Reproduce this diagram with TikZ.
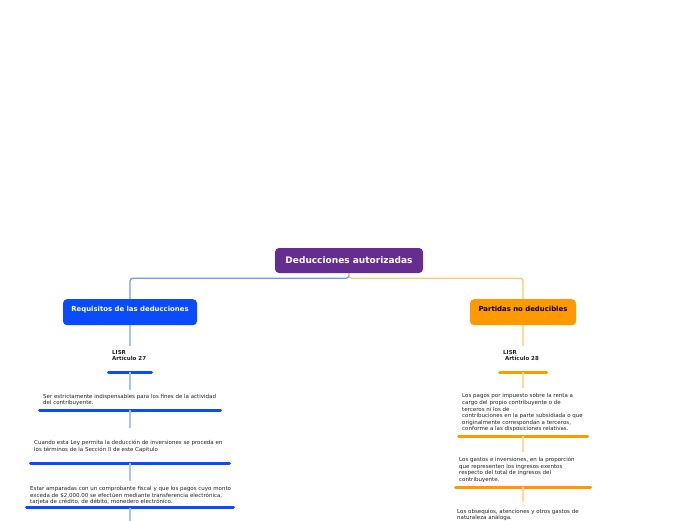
\documentclass[tikz,border=0pt]{standalone}
\usepackage{fontspec}
\setmainfont{DejaVu Sans}
\definecolor{dmPurple}{HTML}{662D91}
\definecolor{dmBlue}{HTML}{0A4BFF}
\definecolor{dmOrange}{HTML}{FF9900}
\definecolor{dmBlueLink}{HTML}{6E98F8}
\definecolor{dmBlueStem}{HTML}{A8C2FB}
\definecolor{dmOrangeLink}{HTML}{FFC570}
\definecolor{dmOrangeStem}{HTML}{FFD9A0}
\definecolor{dmInk}{HTML}{222222}

\begin{document}
\begin{tikzpicture}[
  x=1pt, y=1pt, text=dmInk,
  dm root/.style={fill=dmPurple,text=white,rounded corners=4pt,
    minimum width=148pt,minimum height=25pt,inner sep=0pt,
    font=\fontsize{9}{10.8}\selectfont\bfseries},
  dm topic/.style={rounded corners=4pt,inner sep=0pt,
    text height=12pt,text depth=14pt,
    font=\fontsize{6.9}{8}\selectfont\bfseries},
  dm item/.style={anchor=north west,align=left,inner xsep=0pt,
    font=\fontsize{5.5}{6.6}\selectfont},
  dm law/.style={dm item,font=\fontsize{5.1}{6.4}\selectfont\bfseries},
  dm link/.style={line width=1.3pt,rounded corners=3pt},
  dm stem/.style={line width=1.2pt},
  dm bar/.style={line width=3pt,line cap=round}
]
\useasboundingbox (0,0) rectangle (696,-520);
% Column axes of the two branches.
\def\xL{130}
\def\xR{523}

% Central topic and the two branches.
\node[dm root] (root) at (349,-260.5) {Deducciones autorizadas};
\node[dm topic,fill=dmBlue,text=white,minimum width=134pt,anchor=north]
  (requisitos) at (\xL,-299) {Requisitos de las deducciones};
\node[dm topic,fill=dmOrange,text=black,minimum width=106pt,anchor=north]
  (partidas) at (\xR,-299) {Partidas no deducibles};
\draw[dm link,draw=dmBlueLink] (root.south) -- ++(0,-5) -| (requisitos.north);
\draw[dm link,draw=dmOrangeLink] (root.south) -- ++(0,-5) -| (partidas.north);

% Items: name/column/top/gap/width/underline/colour/text
\foreach \nm/\cx/\ny/\gap/\w/\uy/\col/\txt in {
  lisrL/\xL/346/4.0/46/372/dmBlue/{\textbf{LISR}\\\textbf{Artículo 27}},
  req1/\xL/390/4.0/184/410/dmBlue/{Ser estrictamente indispensables para los fines de la actividad\\del contribuyente.},
  req2/\xL/428/12.2/202/463/dmBlue/{Cuando esta Ley permita la deducción de inversiones se proceda en\\los términos de la Sección II de este Capítulo},
  req3/\xL/481/5.2/210/507.5/dmBlue/{Estar amparadas con un comprobante fiscal y que los pagos cuyo monto\\exceda de \$2,000.00 se efectúen mediante transferencia electrónica,\\tarjeta de crédito, de débito, monedero electrónico.},
  lisrR/\xR/346/4.0/50/372/dmOrange/{\textbf{LISR}\\\hspace*{1.8pt}\textbf{Artículo 28}},
  nd1/\xR/388/5.5/132/436/dmOrange/{Los pagos por impuesto sobre la renta a\\cargo del propio contribuyente o de\\terceros ni los de\\contribuciones en la parte subsidiada o que\\originalmente correspondan a terceros,\\conforme a las disposiciones relativas.},
  nd2/\xR/452/5.0/138/487/dmOrange/{Los gastos e inversiones, en la proporción\\que representen los ingresos exentos\\respecto del total de ingresos del\\contribuyente.}}{
  \node[dm item,inner ysep=\gap pt] (\nm) at (\cx-\w/2+5,-\ny) {\txt};
  \coordinate (\nm-u) at (\cx,-\uy);
  \draw[dm bar,draw=\col] (\cx-\w/2+1.5,-\uy) -- (\cx+\w/2-1.5,-\uy);
}
\node[dm item,inner ysep=7.5pt] (nd3) at (\xR-71+5,-501.5)
  {Los obsequios, atenciones y otros gastos de\\naturaleza análoga.};
\coordinate (endL) at (\xL,-521);

% Stems down each column.
\draw[dm stem,draw=dmBlueStem] (requisitos.south) -- (requisitos.south |- lisrL.north);
\foreach \a/\b in {lisrL/req1,req1/req2,req2/req3}
  \draw[dm stem,draw=dmBlueStem] (\a-u) -- (\a-u |- \b.north);
\draw[dm stem,draw=dmBlueStem] (req3-u) -- (endL);
\draw[dm stem,draw=dmOrangeStem] (partidas.south) -- (partidas.south |- lisrR.north);
\foreach \a/\b in {lisrR/nd1,nd1/nd2,nd2/nd3}
  \draw[dm stem,draw=dmOrangeStem] (\a-u) -- (\a-u |- \b.north);
\end{tikzpicture}
\end{document}
